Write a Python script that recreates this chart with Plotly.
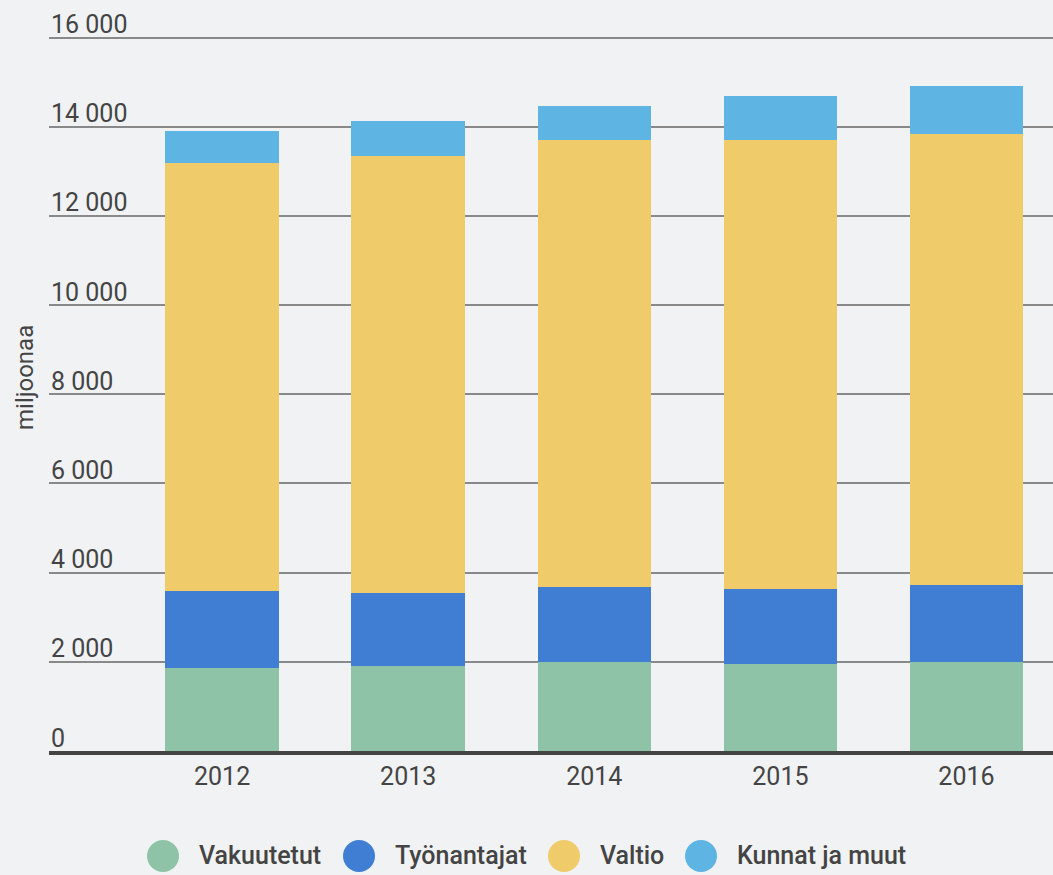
import plotly.graph_objects as go

# Data (million euros)
years = ["2012", "2013", "2014", "2015", "2016"]
series_names = ["Vakuutetut", "Työnantajat", "Valtio", "Kunnat ja muut"]
vakuutetut = [1860, 1900, 1995, 1950, 1995]
tyonantajat = [1725, 1640, 1680, 1680, 1725]
valtio = [9610, 9795, 10035, 10080, 10125]
kunnat = [715, 800, 760, 985, 1075]
y_ticks = [0, 2000, 4000, 6000, 8000, 10000, 12000, 14000, 16000]
y_tick_labels = ["0", "2 000", "4 000", "6 000", "8 000", "10 000", "12 000", "14 000", "16 000"]

COLORS = ["#8ec3a7", "#3f7ed2", "#efcb6a", "#5eb5e4"]
BG = "#f1f2f4"
TEXT = "#444444"
FONT = "Roboto, Noto Sans, sans-serif"

W, H = 1053, 875
M_L, M_R, M_T, M_B = 49, 0, 0, 124
PW, PH = W - M_L - M_R, H - M_T - M_B
# 16 000 sits ~37.5 px from the top, leave room above it for its label
Y_TOP = 16000 * PH / (H - M_B - 37.5)

fig = go.Figure()
for name, vals, col in zip(series_names, [vakuutetut, tyonantajat, valtio, kunnat], COLORS):
    fig.add_trace(go.Bar(
        name=name, x=years, y=vals, marker=dict(color=col, line=dict(width=0)),
        width=0.61, showlegend=False,
    ))


def px_x(p):
    return (p - M_L) / PW


def px_y(p):
    return (H - M_B - p) / PH


shapes = []
annotations = []

# y tick labels sit on top of their gridlines, left aligned
for v, lbl in zip(y_ticks, y_tick_labels):
    annotations.append(dict(
        text=lbl, xref="paper", yref="y", x=0, y=v,
        xanchor="left", yanchor="middle", yshift=13, showarrow=False,
        font=dict(family=FONT, size=25, color=TEXT),
    ))

# custom legend: big circles + labels, centered under the plot
legend_circle_x = [163, 359, 564, 701]
legend_y = 856
for name, col, cx in zip(series_names, COLORS, legend_circle_x):
    shapes.append(dict(
        type="circle", xref="paper", yref="paper",
        xsizemode="pixel", ysizemode="pixel",
        xanchor=px_x(cx), yanchor=px_y(legend_y),
        x0=-16, x1=16, y0=-16, y1=16,
        fillcolor=col, line=dict(width=0),
    ))
    annotations.append(dict(
        text=name, xref="paper", yref="paper",
        x=px_x(cx + 34), y=px_y(legend_y),
        xanchor="left", yanchor="middle", showarrow=False,
        font=dict(family=FONT, size=25, color=TEXT, weight=500),
    ))

# y axis title
annotations.append(dict(
    text="miljoonaa", xref="paper", yref="paper",
    x=px_x(25), y=px_y(378), textangle=-90,
    xanchor="center", yanchor="middle", showarrow=False,
    font=dict(family=FONT, size=24, color=TEXT),
))

fig.update_layout(
    barmode="stack",
    width=W, height=H,
    margin=dict(l=M_L, r=M_R, t=M_T, b=M_B),
    paper_bgcolor=BG, plot_bgcolor=BG,
    font=dict(family=FONT, size=25, color=TEXT),
    showlegend=False,
    shapes=shapes,
    annotations=annotations,
)
fig.update_xaxes(
    range=[-0.93, 4.465], showgrid=False, zeroline=False,
    showline=True, linecolor=TEXT, linewidth=4, ticks="",
    tickfont=dict(family=FONT, size=25, color=TEXT),
)
fig.update_yaxes(
    range=[0, Y_TOP], tickvals=y_ticks, showticklabels=False, ticks="",
    showgrid=True, gridcolor="#898989", gridwidth=2,
    zeroline=False, showline=False,
)

fig.write_html(
    "out.html",
    config={"displayModeBar": False},
    post_script="document.body.style.margin='0';",
)
